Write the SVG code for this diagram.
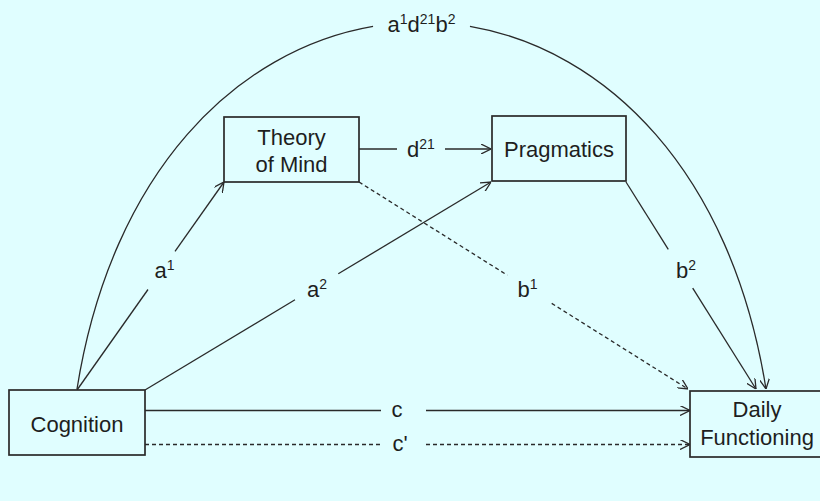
<svg xmlns="http://www.w3.org/2000/svg" width="820" height="501" viewBox="0 0 820 501">
<style>
  .bg { fill: #e0feff; }
  .box { fill: #e0feff; stroke: #2a2a2a; stroke-width: 1.7; }
  .t { font-family: "Liberation Sans", Arial, sans-serif; font-size: 22px; fill: #1e1e1e; text-anchor: middle; }
  .sup { font-size: 14px; }
  .ln { fill: none; stroke: #2a2a2a; stroke-width: 1.3; }
  .dash { stroke-dasharray: 4 3; }
</style>
<defs>
  <marker id="arr" viewBox="0 0 10 10" refX="10" refY="5" markerWidth="10" markerHeight="10" markerUnits="userSpaceOnUse" orient="auto">
    <path d="M0,0 L10,5 L0,10" fill="none" stroke="#2a2a2a" stroke-width="1.3"/>
  </marker>
</defs>
<rect class="bg" x="0" y="0" width="820" height="501"/>

<g id="connectors">
  <!-- a1d21b2 arc -->
  <path class="ln" d="M77,389 C111.87,170.42 237.65,49.54 373.06,26.37"/>
  <path class="ln" d="M469.94,26.37 C605.35,49.54 731.13,170.42 766,389" marker-end="url(#arr)"/>
  <text class="t" x="421.5" y="32">a<tspan class="sup" dy="-8">1</tspan><tspan dy="8">d</tspan><tspan class="sup" dy="-8">21</tspan><tspan dy="8">b</tspan><tspan class="sup" dy="-8">2</tspan></text>
  <!-- a1 -->
  <path class="ln" d="M77,390 L148,289.5"/>
  <path class="ln" d="M175,251.3 L224,182" marker-end="url(#arr)"/>
  <text class="t" x="164.5" y="278">a<tspan class="sup" dy="-8">1</tspan></text>
  <!-- a2 -->
  <path class="ln" d="M145,390 L295,299.8"/>
  <path class="ln" d="M338.3,273.8 L491,182" marker-end="url(#arr)"/>
  <text class="t" x="317" y="297">a<tspan class="sup" dy="-8">2</tspan></text>
  <!-- d21 -->
  <path class="ln" d="M359,149 L397,149"/>
  <path class="ln" d="M445,149 L491,149" marker-end="url(#arr)"/>
  <text class="t" x="421" y="157">d<tspan class="sup" dy="-8">21</tspan></text>
  <!-- b1 -->
  <path class="ln dash" d="M359,182 L507.3,275.2"/>
  <path class="ln dash" d="M551.7,303.4 L688,389" marker-end="url(#arr)"/>
  <text class="t" x="527.5" y="297">b<tspan class="sup" dy="-8">1</tspan></text>
  <!-- b2 -->
  <path class="ln" d="M626,182 L668.3,249.3"/>
  <path class="ln" d="M692.7,288.2 L756,389" marker-end="url(#arr)"/>
  <text class="t" x="686" y="278">b<tspan class="sup" dy="-8">2</tspan></text>
  <!-- c -->
  <path class="ln" d="M145,410.5 L381,410.5"/>
  <path class="ln" d="M426,410.5 L690,410.5" marker-end="url(#arr)"/>
  <text class="t" x="397" y="417">c</text>
  <!-- c' -->
  <path class="ln dash" d="M145,444.5 L381,444.5"/>
  <path class="ln dash" d="M426,444.5 L690,444.5" marker-end="url(#arr)"/>
  <text class="t" x="400" y="451">c'</text>
</g>

<g id="cognition">
  <rect class="box" x="9" y="390" width="136" height="65"/>
  <text class="t" x="77" y="432">Cognition</text>
</g>
<g id="theory-of-mind">
  <rect class="box" x="224" y="117" width="135" height="65"/>
  <text class="t" x="291.5" y="145">Theory</text>
  <text class="t" x="291.5" y="172">of Mind</text>
</g>
<g id="pragmatics">
  <rect class="box" x="492" y="116" width="134" height="65"/>
  <text class="t" x="559" y="157">Pragmatics</text>
</g>
<g id="daily-functioning">
  <rect class="box" x="690" y="391" width="140" height="66"/>
  <text class="t" x="757" y="417">Daily</text>
  <text class="t" x="757" y="445">Functioning</text>
</g>
</svg>
